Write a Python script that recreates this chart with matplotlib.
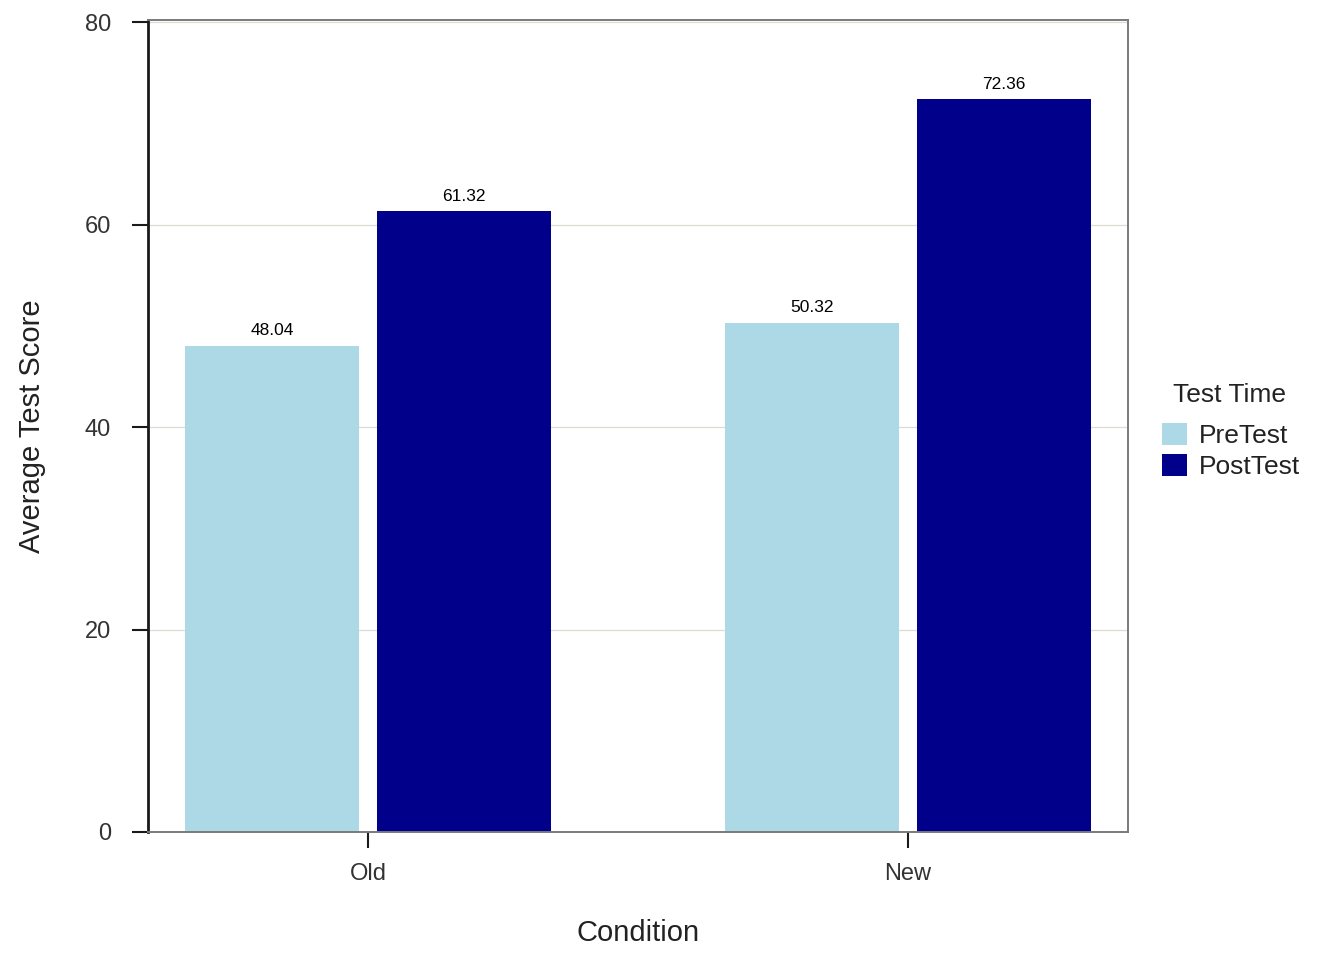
import numpy as np
import matplotlib.pyplot as plt

conditions = ['Old', 'New']
test_times = ['PreTest', 'PostTest']
pre_scores = [48.04, 50.32]
post_scores = [61.32, 72.36]
bar_colors = ['#ADD8E6', '#00008B']

plt.rcParams['font.family'] = ['Liberation Sans', 'DejaVu Sans']

fig = plt.figure(figsize=(13.44, 9.6), dpi=100)
ax = fig.add_axes([148 / 1344, 1 - 832 / 960, 980 / 1344, 812 / 960])

x = np.arange(1, len(conditions) + 1)
width = 0.322
offset = 0.178

for vals, sign, name, color in zip([pre_scores, post_scores], [-1, 1], test_times, bar_colors):
    bars = ax.bar(x + sign * offset, vals, width=width, color=color, label=name, zorder=2)
    for b, v in zip(bars, vals):
        ax.annotate(f'{v:.2f}', (b.get_x() + b.get_width() / 2, v),
                    xytext=(0, 5.5), textcoords='offset points',
                    ha='center', va='bottom', fontsize=12.5, color='black')

ax.set_xlim(0.5926, 2.4074)
ax.set_ylim(0, 80.2)
ax.set_yticks([0, 20, 40, 60, 80])
ax.set_xticks(x)
ax.set_xticklabels(conditions)

ax.yaxis.grid(True, color='#dedbd0', linewidth=0.9, zorder=0)
ax.set_axisbelow(True)

for side in ['top', 'right', 'bottom']:
    ax.spines[side].set_color('#7a7a7a')
    ax.spines[side].set_linewidth(1.4)
ax.spines['left'].set_color('#1a1a1a')
ax.spines['left'].set_linewidth(2.0)

ax.tick_params(axis='y', length=11.5, width=1.5, color='#1a1a1a', pad=15,
               labelsize=17, labelcolor='#333333')
ax.tick_params(axis='x', length=11.5, width=1.5, color='#1a1a1a', pad=11,
               labelsize=17, labelcolor='#333333')

ax.set_xlabel('Condition', fontsize=21, color='#222222', labelpad=24.5)
ax.set_ylabel('Average Test Score', fontsize=21, color='#222222', labelpad=28)

# legend title drawn separately so it can sit a little right of the keys
fig.text(1173 / 1344, 1 - 395 / 960, 'Test Time', fontsize=19,
         color='#222222', ha='left', va='center')
leg = ax.legend(loc='center left',
                bbox_to_anchor=(1144 / 1344, 1 - 451 / 960),
                bbox_transform=fig.transFigure, frameon=False,
                fontsize=19,
                handlelength=0.92, handleheight=0.92, handletextpad=0.45,
                labelspacing=0.22, borderpad=0.2)
for t in leg.get_texts():
    t.set_color('#222222')

fig.savefig('out.png', dpi=100)
